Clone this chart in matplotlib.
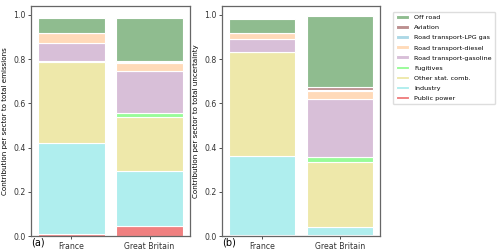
import numpy as np
import matplotlib
matplotlib.use('Agg')
import matplotlib.pyplot as plt

countries = ['France', 'Great Britain']
sectors = ['Public power', 'Industry', 'Other stat. comb.', 'Fugitives',
           'Road transport-gasoline', 'Road transport-diesel',
           'Road transport-LPG gas', 'Aviation', 'Off road']
colors = ['lightcoral', 'paleturquoise', 'palegoldenrod', 'palegreen',
          'thistle', 'peachpuff', 'lightblue', 'rosybrown', 'darkseagreen']

# share of each sector, France / Great Britain
emis = {
    'Public power':            [0.008, 0.047],
    'Industry':                [0.414, 0.249],
    'Other stat. comb.':       [0.367, 0.244],
    'Fugitives':               [0.001, 0.016],
    'Road transport-gasoline': [0.082, 0.190],
    'Road transport-diesel':   [0.045, 0.036],
    'Road transport-LPG gas':  [0.001, 0.003],
    'Aviation':                [0.001, 0.005],
    'Off road':                [0.066, 0.198],
}
unc = {
    'Public power':            [0.003, 0.003],
    'Industry':                [0.360, 0.039],
    'Other stat. comb.':       [0.470, 0.291],
    'Fugitives':               [0.001, 0.023],
    'Road transport-gasoline': [0.056, 0.263],
    'Road transport-diesel':   [0.026, 0.038],
    'Road transport-LPG gas':  [0.001, 0.005],
    'Aviation':                [0.001, 0.012],
    'Off road':                [0.062, 0.320],
}

fig = plt.figure(figsize=(5, 2.52), dpi=100)
ax1 = fig.add_axes([0.062, 0.063, 0.318, 0.913])
ax2 = fig.add_axes([0.444, 0.063, 0.316, 0.913])

x = np.arange(len(countries))
for ax, data, ylab, tag in [(ax1, emis, 'Contribution per sector to total emissions', '(a)'),
                            (ax2, unc, 'Contribution per sector to total uncertainty', '(b)')]:
    bottom = np.zeros(len(countries))
    for s, c in zip(sectors, colors):
        vals = np.array(data[s])
        ax.bar(x, vals, 0.85, bottom=bottom, color=c, edgecolor='white',
               linewidth=0.8, label=s)
        bottom += vals
    ax.set_xticks(x)
    ax.set_xticklabels(countries, fontsize=5.6)
    ax.set_ylim(0, 1.04)
    ax.set_yticks([0, 0.2, 0.4, 0.6, 0.8, 1.0])
    ax.set_yticklabels(['0.0', '0.2', '0.4', '0.6', '0.8', '1.0'], fontsize=5.6)
    ax.set_ylabel(ylab, fontsize=5.1, labelpad=4)
    ax.tick_params(length=2, width=0.6, pad=2, colors='#333333')
    for sp in ax.spines.values():
        sp.set_color('#666666')
        sp.set_linewidth(0.9)
    ax.text(0.0, -0.008, tag, transform=ax.transAxes, fontsize=7,
            ha='left', va='top')

h, l = ax2.get_legend_handles_labels()
fig.legend(h[::-1], l[::-1], loc='upper left', bbox_to_anchor=(0.78, 0.965),
           fontsize=4.6, labelspacing=0.78, handlelength=2.0, handleheight=0.5,
           borderpad=0.5, framealpha=1, edgecolor='#dddddd', fancybox=True)

fig.savefig('out.png', dpi=100)
